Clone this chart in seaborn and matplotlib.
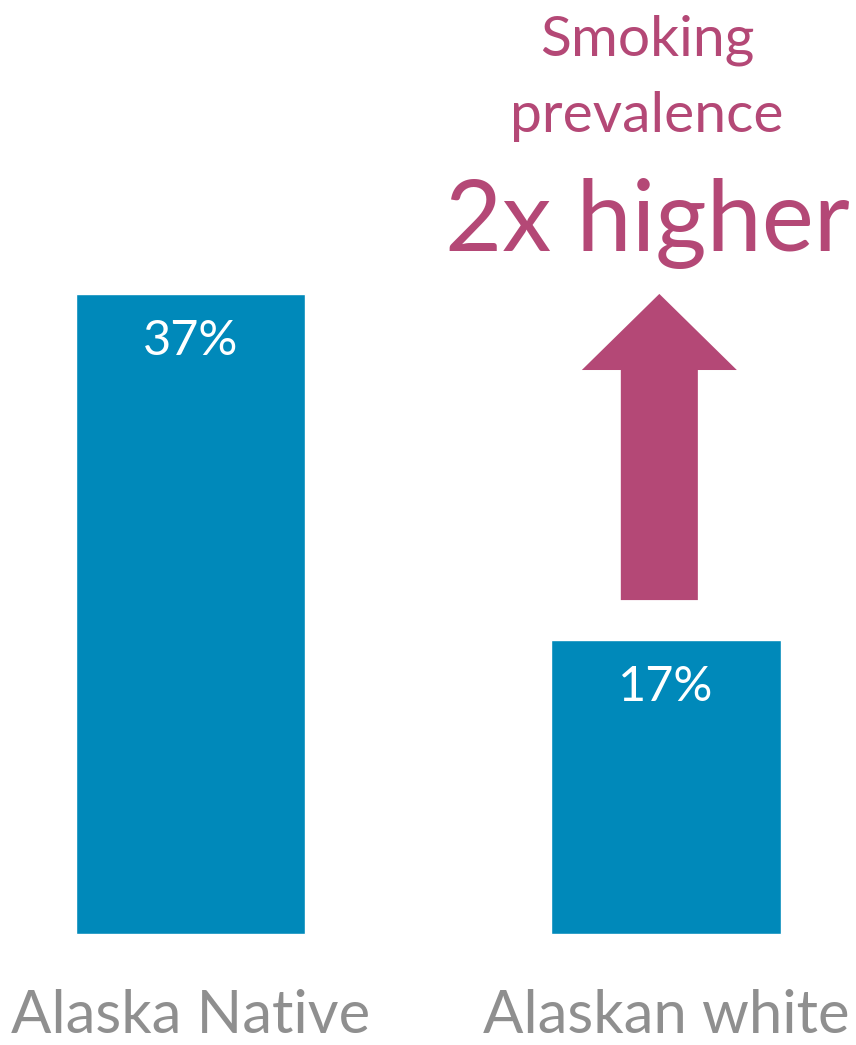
import matplotlib
matplotlib.use("Agg")
import matplotlib.pyplot as plt
from matplotlib.patches import Polygon
import seaborn as sns
import pandas as pd

groups = ["Alaska Native", "Alaskan white"]
prevalence = [37, 17]
value_labels = ["37%", "17%"]
headline = ["Smoking", "prevalence", "2x higher"]

BLUE = "#0089BA"
MAGENTA = "#B44876"
GRAY = "#8F8F8F"

sns.set_theme(style="white")
plt.rcParams["font.family"] = ["Lato", "DejaVu Sans"]

df = pd.DataFrame({"group": groups, "prevalence": prevalence})

fig = plt.figure(figsize=(8.56, 10.45), dpi=100)
ax = fig.add_axes([0, 0, 1, 1])
sns.barplot(data=df, x="group", y="prevalence", color=BLUE, width=0.483,
            saturation=1, ax=ax)

ax.set_xlim(-0.4006, 1.3996)
ax.set_ylim(-6.42, 53.99)
ax.axis("off")

# value labels inside bars
for i, (v, lab) in enumerate(zip(prevalence, value_labels)):
    ax.text(i, v - 3.55, lab, ha="center", va="baseline", color="white",
            fontsize=35)

# category labels under bars
for i, g in enumerate(groups):
    ax.text(i, -5.72, g, ha="center", va="baseline", color=GRAY, fontsize=43)

# upward arrow from the lower bar up to the level of the higher bar
cx = 0.986
base = prevalence[1] + 2.3
head_base = prevalence[0] - 4.4
shaft_hw = 0.081
head_hw = 0.163
arrow = Polygon([
    (cx - shaft_hw, base), (cx + shaft_hw, base),
    (cx + shaft_hw, head_base), (cx + head_hw, head_base),
    (cx, prevalence[0]),
    (cx - head_hw, head_base), (cx - shaft_hw, head_base),
], closed=True, facecolor=MAGENTA, edgecolor="none")
ax.add_patch(arrow)

tx = 0.96
ax.text(tx, 50.8, headline[0], ha="center", va="baseline", color=MAGENTA, fontsize=41)
ax.text(tx, 46.36, headline[1], ha="center", va="baseline", color=MAGENTA, fontsize=41)
ax.text(tx, 39.5, headline[2], ha="center", va="baseline", color=MAGENTA, fontsize=71)

fig.savefig("out.png", dpi=100, facecolor="white")
